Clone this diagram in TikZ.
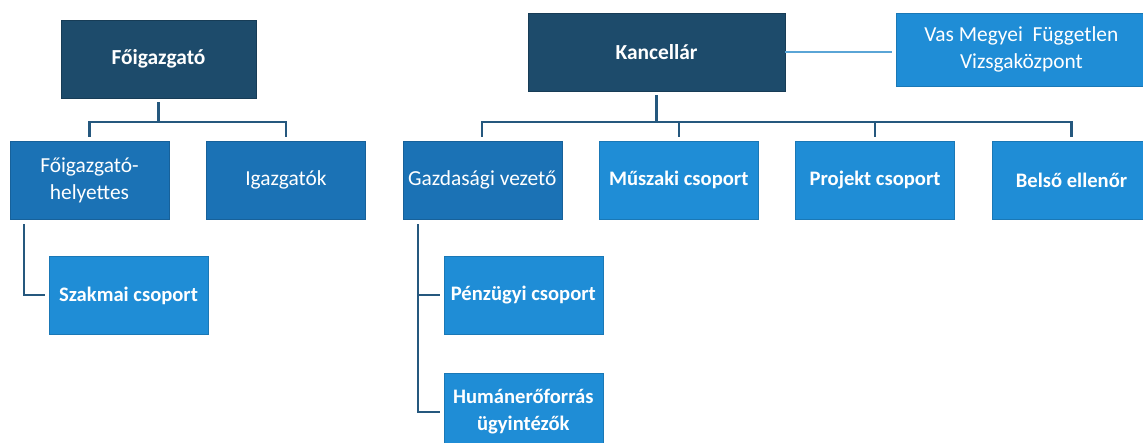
\documentclass[tikz,border=0pt]{standalone}
\usepackage{fontspec}
\setmainfont{Carlito}
\usepackage{tikz}
\usetikzlibrary{positioning, calc}
\definecolor{navy}{HTML}{1D4B6B}
\definecolor{midblue}{HTML}{1B72B5}
\definecolor{brightblue}{HTML}{1F8DD6}
\definecolor{linecol}{HTML}{25587E}
\definecolor{linklight}{HTML}{5AA5D6}
\tikzstyle{headbox} = [rectangle, minimum width=159pt, minimum height=78pt, inner sep=0pt, align=center, fill=navy, draw=navy!80!black, text=white, font=\fontsize{21.4}{27}\selectfont\bfseries]
\tikzstyle{unitbox} = [rectangle, minimum width=159pt, minimum height=78pt, inner sep=0pt, align=center, fill=midblue, draw=midblue!85!black, text=white, font=\fontsize{21.4}{27}\selectfont]
\tikzstyle{groupbox} = [rectangle, minimum width=159pt, minimum height=78pt, inner sep=0pt, align=center, fill=brightblue, draw=brightblue!85!black, text=white, font=\fontsize{20.6}{27}\selectfont\bfseries]
\tikzstyle{tree} = [line width=2.2pt, linecol]
\tikzstyle{sidelink} = [line width=1.4pt, linklight]

\begin{document}
\begin{tikzpicture}[x=1pt, y=1pt]
    \useasboundingbox (0,0) rectangle (1143,-443);

    % Top level
    \node (foi) [headbox, minimum width=195pt] at (158.5,-59) {Főigazgató};
    \node (kanc) [headbox, minimum width=257pt] at (656.5,-52) {Kancellár};
    \node (vas) [groupbox, right=111pt of kanc.north east, anchor=north west, minimum width=250pt, minimum height=73pt, font=\fontsize{21.4}{27}\selectfont] {Vas Megyei~ Független\\Vizsgaközpont};

    % Second row
    \node (fh) [unitbox] at (89.5,-180) {Főigazgató-\\helyettes};
    \node (igaz) [unitbox, right=37pt of fh] {Igazgatók};
    \node (gazd) [unitbox, right=37pt of igaz] {Gazdasági vezető};
    \node (musz) [groupbox, right=37pt of gazd] {Műszaki csoport};
    \node (proj) [groupbox, right=37pt of musz] {Projekt csoport};
    \node (belso) [groupbox, right=37pt of proj] {Belső ellenőr};

    % Third level
    \node (szak) [groupbox, below=37pt of fh, xshift=39pt] {Szakmai csoport};
    \node (penz) [groupbox, below=37pt of gazd, xshift=41pt] {Pénzügyi csoport};
    \node (hum) [groupbox, below=38pt of penz] {Humánerőforrás\\ügyintézők};

    % Tree lines
    \draw [tree] ([yshift=-4pt]foi.south) -- ++(0,-20);
    \draw [tree] ([yshift=4pt]fh.north) |- ([yshift=19pt]igaz.north) -- ([yshift=4pt]igaz.north);
    \draw [tree] ([yshift=-4pt]kanc.south) -- ++(0,-27);
    \draw [tree] ([yshift=4pt]gazd.north) |- ([yshift=19pt]belso.north) -- ([yshift=4pt]belso.north);
    \foreach \n in {musz, proj}
        \draw [tree] ([yshift=4pt]\n.north) -- ([yshift=19pt]\n.north);

    % Side branches
    \coordinate (fhdrop) at ([xshift=14pt, yshift=-5pt]fh.south west);
    \draw [tree] (fhdrop) |- ([xshift=-4pt]szak.west);
    \coordinate (gzdrop) at ([xshift=15pt, yshift=-5pt]gazd.south west);
    \draw [tree] (gzdrop) |- ([xshift=-4pt]hum.west);
    \draw [tree] (gzdrop |- penz.west) -- ([xshift=-4pt]penz.west);
    \draw [sidelink] (kanc.east) -- ($(vas.west |- kanc.east)+(-4,0)$);

\end{tikzpicture}
\end{document}
